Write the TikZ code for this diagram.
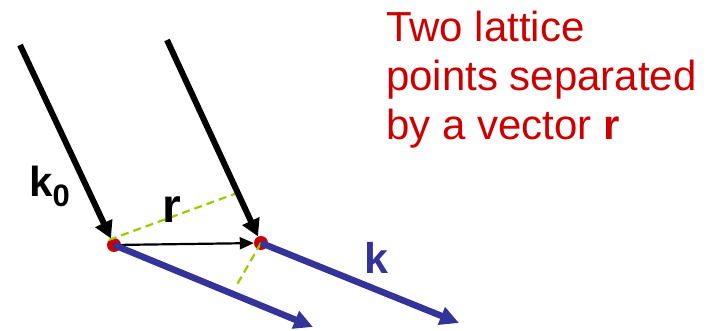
\documentclass[tikz,border=0pt]{standalone}
\usepackage{fontspec}
\setmainfont{Liberation Sans}
\usetikzlibrary{arrows.meta,calc}
\definecolor{tred}{RGB}{204,0,0}
\definecolor{kblue}{RGB}{51,51,153}
\definecolor{dgreen}{RGB}{153,204,0}
\begin{document}
\begin{tikzpicture}[x=1pt,y=-1pt,
  latpt/.style={circle,fill=tred,inner sep=0pt,minimum size=14pt},
  incident/.style={line width=6pt,-{Triangle[length=17pt,width=18pt]}},
  outgoing/.style={draw=kblue,line width=6.5pt,-{Triangle[length=19pt,width=18pt]},color=kblue},
  rvec/.style={line width=2.2pt,-{Triangle[length=14pt,width=12pt]}},
  perp/.style={draw=dgreen,line width=2.2pt,dash pattern=on 8pt off 5pt},
  lbl/.style={inner sep=0pt,font=\bfseries}]
\useasboundingbox (0,0) rectangle (715,331);
% lattice points
\node[latpt] (P1) at (114,245) {};
\node[latpt] (P2) at (261,243) {};
% coordinates
\coordinate (A1) at (20,45);
\coordinate (A2) at (167,40);
\coordinate (B1) at (313,327);
\coordinate (B2) at (459,323);
\coordinate (G1) at (240,192);
\coordinate (G2) at (235,288);
% path difference lines
\draw[perp] (P1.north west) -- (G1);
\draw[perp] (P2.center) -- (G2);
% incident beams
\draw[incident] (A1) -- (P1);
\draw[incident] (A2) -- (P2);
% separation vector
\draw[rvec] (P1.center) -- (P2);
% scattered beams
\draw[outgoing] (P1.center) -- (B1);
\draw[outgoing] (P2.center) -- (B2);
% labels
\node[lbl,anchor=base west] (k0) at (29,197) {\fontsize{42}{42}\selectfont k\raisebox{-10pt}{\fontsize{31}{31}\selectfont 0}};
\node[lbl,anchor=base west] (r) at (162,223) {\fontsize{48}{48}\selectfont r};
\node[lbl,anchor=base west,text=kblue] (k) at (364,273) {\fontsize{43}{43}\selectfont k};
\node[inner sep=0pt,anchor=north west,align=left,text=tred,font=\fontsize{42}{49}\selectfont] (txt) at (386,11)
  {Two lattice\\points separated\\by a vector \textbf{r}};
\end{tikzpicture}
\end{document}
